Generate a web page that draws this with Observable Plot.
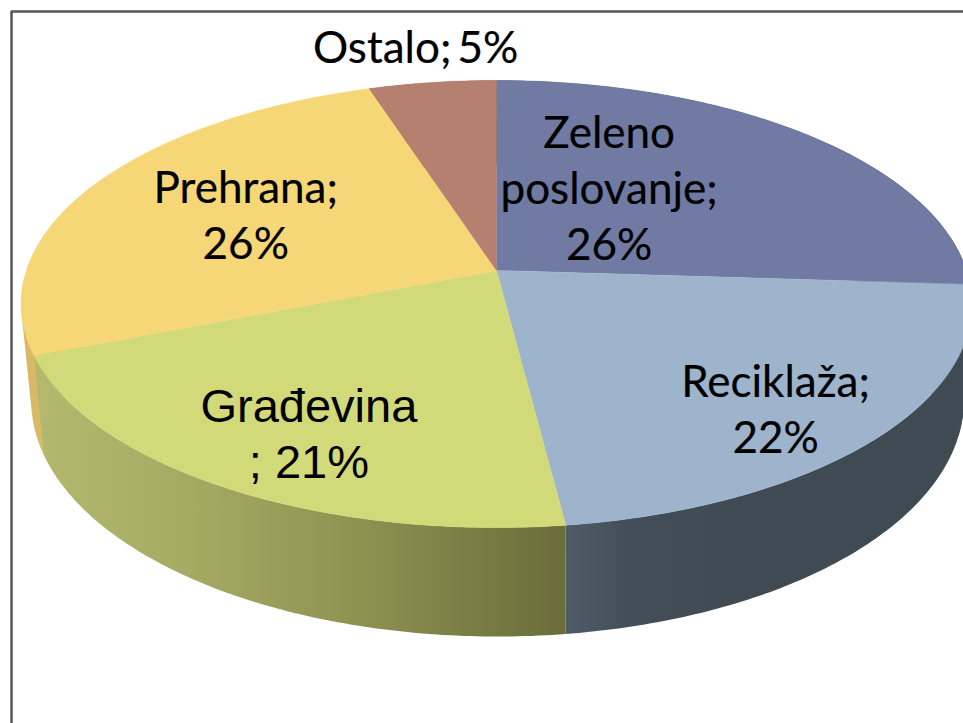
<!DOCTYPE html>
<html>
<head>
<meta charset="utf-8">
<script src="https://cdn.jsdelivr.net/npm/d3@7"></script>
<script src="https://cdn.jsdelivr.net/npm/@observablehq/plot@0.6"></script>
<style>
html,body{margin:0;padding:0;background:#fff;overflow:hidden}
svg{display:block}
</style>
</head>
<body>
<script>
// Data, clockwise from 12 o'clock
const categories = ["Zeleno poslovanje", "Reciklaža", "Građevina", "Prehrana", "Ostalo"];
const shares = [26, 22, 21, 26, 5];
const labelTexts = ["Zeleno\nposlovanje;\n26%", "Reciklaža;\n22%", "Građevina\n; 21%", "Prehrana;\n26%", "Ostalo; 5%"];

// Styling
const topColors = ["#717aa2", "#9db4cc", "#d2d979", "#f6d777", "#b5806f"];
const wallRamps = [
  [["#3f4a53", "#3f4a53"], [0, 1]],
  [["#4f5c68", "#434e58", "#3f4a53", "#3f4a53"], [0, 0.15, 0.45, 1]],
  [["#b4b96f", "#a5a962", "#8f9352", "#6a6c3a"], [0, 0.3, 0.6, 1]],
  [["#d8ba66", "#d8ba66"], [0, 1]],
  [["#8a6055", "#8a6055"], [0, 1]]
];
const labelFonts = ["Lato", "Lato", "Liberation Sans", "Lato", "Lato"];
const labelNudge = [[-81, 0], [60, 41], [-32, 39], [-5, -4], [-6, -6]];
const labelRadius = [0.6, 0.6, 0.6, 0.6, 1.2];

// Perspective view of a tilted disc
const k = 0.15;
const topRim = {cx: 496, cy: 270, B: 470, A: 218.5};
const lowRim = {cx: 497, cy: 364.6, B: 461, A: 230.7};
function project(pct, r, rim) {
  const a = pct / 100 * 2 * Math.PI;
  const u = r * Math.sin(a), v = r * Math.cos(a), d = 1 + k * v;
  return [rim.cx + rim.B * u / d, rim.cy - rim.A * v / d];
}

const total = d3.sum(shares);
const starts = d3.cumsum([0, ...shares]).map(c => c / total * 100);

const topPts = [], wallPts = [], grads = [];
categories.forEach((name, i) => {
  const s0 = starts[i], s1 = starts[i + 1];
  const c = project(0, 0, topRim);
  topPts.push({id: name, x: c[0], y: c[1], color: topColors[i]});
  const steps = Math.ceil((s1 - s0) / 0.2);
  for (let j = 0; j <= steps; j++) {
    const p = project(s0 + (s1 - s0) * j / steps, 1, topRim);
    topPts.push({id: name, x: p[0], y: p[1], color: topColors[i]});
  }
  // side wall: one outline per slice, shaded with a horizontal gradient
  const fill = `url(#wall${i})`;
  const upper = [], lower = [];
  for (let j = 0; j <= steps; j++) {
    const pct = s0 + (s1 - s0) * j / steps;
    upper.push(project(pct, 1, topRim));
    lower.unshift(project(pct, 1, lowRim));
  }
  [...upper, ...lower, upper[0]].forEach(q => wallPts.push({id: name, x: q[0], y: q[1], color: fill}));
  const xs = [upper[0][0], upper[upper.length - 1][0]];
  grads.push({id: `wall${i}`, x1: Math.min(...xs), x2: Math.max(...xs), ramp: wallRamps[i]});
});

// Silhouettes of the wall at the two side tips, painted behind every other wall
function tip(id, from, to, sliceIndex) {
  const rimPts = d3.range(from, to, 0.25)
    .flatMap(pct => [project(pct, 1, topRim), project(pct, 1, lowRim)]);
  return d3.polygonHull(rimPts).map(q => ({id, x: q[0], y: q[1], color: `url(#wall${sliceIndex})`}));
}
const leftTipSlice = 3;
const tipWalls = [
  ...tip("left", starts[leftTipSlice], starts[leftTipSlice] + 13.75, leftTipSlice),
  ...tip("right", starts[1] - 12, starts[1] + 4, 0)
];

const labels = categories.map((name, i) => {
  const [x, y] = project((starts[i] + starts[i + 1]) / 2, labelRadius[i], topRim);
  return {name, x, y, text: labelTexts[i], font: labelFonts[i], nudge: labelNudge[i]};
});

const chart = Plot.plot({
  width: 963, height: 723,
  margin: 0,
  x: {domain: [0, 963], range: [0, 963], axis: null},
  y: {domain: [0, 723], range: [0, 723], axis: null},
  color: {type: "identity"},
  style: {background: "#fff"},
  marks: [
    Plot.line(tipWalls, {x: "x", y: "y", z: "id", fill: "color", curve: "linear", stroke: null}),
    Plot.line(wallPts.filter(d => d.id !== categories[leftTipSlice]), {x: "x", y: "y", z: "id", fill: "color", curve: "linear", stroke: null}),
    Plot.line(topPts, {x: "x", y: "y", z: "id", fill: "color", stroke: "color", strokeWidth: 0.5, curve: "linear"}),
    Plot.ruleX([11], {y1: 11, y2: 723, stroke: "#55555f", strokeWidth: 2.5}),
    Plot.ruleY([11], {x1: 11, x2: 963, stroke: "#55555f", strokeWidth: 2.5}),
    ...labels.map(l => Plot.text([l], {
      x: "x", y: "y", text: "text",
      dx: l.nudge[0], dy: l.nudge[1],
      fontFamily: l.font,
      fontSize: l.font === "Lato" ? 44 : 47,
      lineHeight: l.font === "Lato" ? 1.27 : 1.21,
      fill: "#000",
      stroke: l.font === "Lato" ? "#000" : "none",
      strokeWidth: 0.2,
      textAnchor: "middle", lineAnchor: "middle"
    }))
  ]
});

// Gradients referenced by the wall outlines
const defs = d3.select(chart).insert("defs", ":first-child");
grads.forEach(g => {
  const lg = defs.append("linearGradient")
    .attr("id", g.id).attr("gradientUnits", "userSpaceOnUse")
    .attr("x1", g.x1).attr("x2", g.x2).attr("y1", 0).attr("y2", 0);
  g.ramp[0].forEach((col, j) => lg.append("stop").attr("offset", g.ramp[1][j]).attr("stop-color", col));
});
d3.select(chart).selectAll("text").filter(function () { return this.textContent.startsWith("Ostalo"); })
  .style("word-spacing", "-0.12em");
document.body.appendChild(chart);
</script>
</body>
</html>
